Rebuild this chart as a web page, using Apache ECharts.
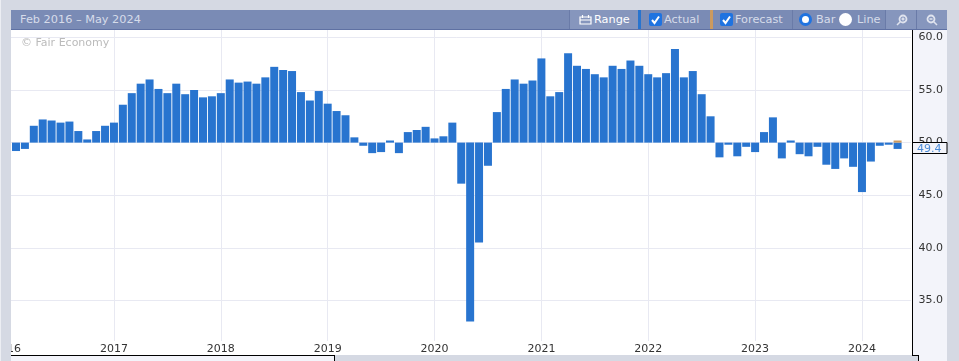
<!DOCTYPE html>
<html>
<head>
<meta charset="utf-8">
<title>Feb 2016 – May 2024</title>
<script src="https://cdn.jsdelivr.net/npm/echarts@6/dist/echarts.min.js"></script>
<style>
  html, body { margin: 0; padding: 0; width: 959px; height: 361px; overflow: hidden; background: #d5d9e3; font-family: "DejaVu Sans", sans-serif; }
  div.box { position: absolute; box-sizing: border-box; }
  #plot { left: 11px; top: 30px; width: 902px; height: 325px; background: #fff; }
  #panel { left: 912px; top: 30px; width: 35px; height: 331px; background: #f3f4fa; }
  #panelLine { left: 912px; top: 30px; width: 1px; height: 326px; background: #000; }
  #panelFoot { left: 912px; top: 355px; width: 7px; height: 6px; background: #d5d9e3; border-top: 1px solid #000; border-right: 1px solid #000; }
  #chart { position: absolute; left: 0; top: 0; width: 959px; height: 361px; }
  #leftMask { left: 0; top: 0; width: 11px; height: 361px; background: #d5d9e3; border-left: 1px solid #eceef3; }
  #slider { left: 11px; top: 355px; width: 324px; height: 6px; background: #f3f4fa; border-top: 1px solid #000; border-right: 1px solid #000; }
  #toolbar { left: 11px; top: 10px; width: 936px; height: 20px; background: #7a8bb5; border-bottom: 1px solid #5f71a3; color: #d6dcea; font-size: 11.3px; line-height: 20px; }
  #toolbar span, #toolbar div, #toolbar svg { position: absolute; }
  .sep { top: 0; width: 1px; height: 19px; background: #6a7ba8; }
  .check { top: 3px; width: 13px; height: 13px; background: #1f73e0; border-radius: 2px; }
  .radio { top: 3px; width: 13px; height: 13px; border-radius: 50%; box-sizing: border-box; }
</style>
</head>
<body>
<div class="box" id="plot"></div>
<div class="box" id="panel"></div>
<div id="chart"></div>
<div class="box" id="panelLine"></div>
<div class="box" id="panelFoot"></div>
<div class="box" id="leftMask"></div>
<div class="box" id="slider"></div>
<div class="box" id="toolbar">
  <span style="left:9px;top:0">Feb 2016 – May 2024</span>
  <div style="left:559px;top:0;width:68px;height:19px;background:#8696bd"></div>
  <div class="sep" style="left:558px"></div>
  <svg style="left:568px;top:4px" width="13" height="11" viewBox="0 0 13 11"><path d="M1 3h11v7H1zM1 6h11M3.500 1v3M9.500 1v3" fill="none" stroke="#fff" stroke-width="1.200"/></svg>
  <span style="left:583px;top:0;color:#fff">Range</span>
  <div style="left:627px;top:0;width:3px;height:19px;background:#2874cf"></div>
  <div class="check" style="left:638px"></div>
  <svg style="left:638px;top:3px" width="13" height="13" viewBox="0 0 13 13"><path d="M3 7l2.500 3L10 3.500" fill="none" stroke="#fff" stroke-width="2"/></svg>
  <span style="left:653px;top:0">Actual</span>
  <div style="left:699px;top:0;width:3px;height:19px;background:#cc9a5f"></div>
  <div class="check" style="left:709px"></div>
  <svg style="left:709px;top:3px" width="13" height="13" viewBox="0 0 13 13"><path d="M3 7l2.500 3L10 3.500" fill="none" stroke="#fff" stroke-width="2"/></svg>
  <span style="left:724px;top:0">Forecast</span>
  <div class="sep" style="left:781px"></div>
  <div class="radio" style="left:788px;background:#fff;border:3px solid #1f73e0"></div>
  <span style="left:805px;top:0">Bar</span>
  <div class="radio" style="left:828px;background:#fff"></div>
  <span style="left:846px;top:0">Line</span>
  <div style="left:874px;top:0;width:62px;height:19px;background:#8696bd"></div>
  <div class="sep" style="left:874px"></div>
  <div class="sep" style="left:905px"></div>
  <svg style="left:885px;top:4px" width="12" height="12" viewBox="0 0 12 12"><circle cx="7" cy="5" r="3.500" fill="none" stroke="#dfe3ee" stroke-width="1.800"/><path d="M4.500 7.500L1 11M5.500 5h3M7 3.500v3" stroke="#dfe3ee" stroke-width="1.500" fill="none"/></svg>
  <svg style="left:915px;top:4px" width="12" height="12" viewBox="0 0 12 12"><circle cx="5" cy="5" r="3.500" fill="none" stroke="#dfe3ee" stroke-width="1.800"/><path d="M7.500 7.500L11 11M3.500 5h3" stroke="#dfe3ee" stroke-width="1.500" fill="none"/></svg>
</div>

<script>
  const startYear = 2016
  const yearLabels = ['2016', '2017', '2018', '2019', '2020', '2021', '2022', '2023', '2024']
  const yTicks = [35, 40, 45, 50, 55, 60]
  const baseline = 50

  // Feb 2016 - May 2024
  const actualValues = [
    49.2, 49.4, 51.6, 52.2, 52.1, 51.9, 52.0, 51.1, 50.3, 51.1, 51.6,
    51.9, 53.6, 54.7, 55.6, 56.0, 55.1, 54.7, 55.6, 54.6, 55.0, 54.3, 54.4,
    54.7, 56.0, 55.7, 55.8, 55.6, 56.2, 57.2, 56.9, 56.8, 54.8, 54.0, 54.9,
    53.7, 53.0, 52.6, 50.5, 49.7, 49.0, 49.1, 50.2, 49.0, 51.0, 51.2, 51.5,
    50.4, 50.6, 51.9, 46.1, 33.0, 40.5, 47.8, 52.9, 55.1, 56.0, 55.6, 55.9,
    58.0, 54.4, 54.8, 58.5, 57.3, 57.0, 56.5, 56.2, 57.3, 57.0, 57.8, 57.3,
    56.5, 56.2, 56.6, 58.9, 56.2, 56.8, 54.6, 52.5, 48.6, 49.8, 48.7, 49.6,
    49.1, 51.0, 52.4, 48.5, 50.2, 48.9, 48.7, 49.6, 47.9, 47.5, 48.5, 47.7,
    45.3, 48.2, 49.7, 49.8, 49.4,
  ]
  const forecastValue = 50.2
  const latestLabel = '49.4'

  // one empty month on each side so the axis runs past the bars like the original
  const months = []
  for (let i = 0; i < 102; i++) {
    const year = startYear + Math.floor(i / 12)
    months.push(year + '-' + String((i % 12) + 1).padStart(2, '0'))
  }
  const actualData = [null, ...actualValues, null]
  const forecastData = months.map((m, i) => (i === 100 ? forecastValue : null))
  const isJanuary = (index, value) => value.endsWith('-01')

  const myChart = echarts.init(document.getElementById('chart'))
  myChart.setOption({
    animation: false,
    backgroundColor: 'transparent',
    textStyle: { fontFamily: 'DejaVu Sans' },
    title: {
      text: '© Fair Economy',
      left: 21,
      top: 38,
      padding: 0,
      textStyle: { color: '#bbbbbb', fontSize: 11, fontWeight: 'normal', fontFamily: 'DejaVu Sans' },
    },
    grid: { left: 2.64, top: 30, width: 908.3, height: 311, containLabel: false, outerBoundsMode: 'none' },
    xAxis: {
      type: 'category',
      data: months,
      axisLine: { show: false },
      axisTick: { show: false, alignWithLabel: true, interval: isJanuary },
      splitLine: {
        show: true,
        alignWithLabel: true,
        interval: isJanuary,
        lineStyle: { color: '#e8e9f2', width: 1 },
      },
      axisLabel: {
        interval: isJanuary,
        hideOverlap: false,
        margin: 3,
        color: '#333',
        fontSize: 11,
        formatter: (value) => yearLabels[Number(value.slice(0, 4)) - startYear],
      },
    },
    yAxis: {
      type: 'value',
      position: 'right',
      min: 31.15,
      max: 60.7,
      startValue: baseline,
      axisLine: { show: false },
      axisTick: { show: false, customValues: yTicks },
      splitLine: { show: true, lineStyle: { color: '#e8e9f2', width: 1 } },
      axisLabel: {
        customValues: yTicks,
        margin: 7.5,
        padding: [2, 0, 0, 0],
        color: '#333',
        fontSize: 11,
        formatter: (value) => value.toFixed(1),
      },
    },
    series: [
      {
        name: 'Actual',
        type: 'bar',
        data: actualData,
        barWidth: 8,
        barGap: '-100%',
        itemStyle: { color: '#2874cf' },
      },
      {
        name: 'Forecast',
        type: 'bar',
        data: forecastData,
        barWidth: 8,
        itemStyle: { color: '#cc9a5f' },
      },
    ],
  })

  const latestY = myChart.convertToPixel({ yAxisIndex: 0 }, Number(latestLabel))
  myChart.setOption({
    graphic: [
      {
        type: 'rect',
        z: 100,
        shape: { x: 912.5, y: Math.round(latestY) - 6.5, width: 34.5, height: 11 },
        style: { fill: '#f3f4fa', stroke: '#000', lineWidth: 1 },
      },
      {
        type: 'text',
        z: 101,
        x: 917,
        y: Math.round(latestY),
        style: { text: latestLabel, fill: '#4a8bd8', fontSize: 11, fontFamily: 'DejaVu Sans', verticalAlign: 'middle' },
      },
    ],
  })

  window.addEventListener('resize', () => myChart.resize())
</script>
</body>
</html>
